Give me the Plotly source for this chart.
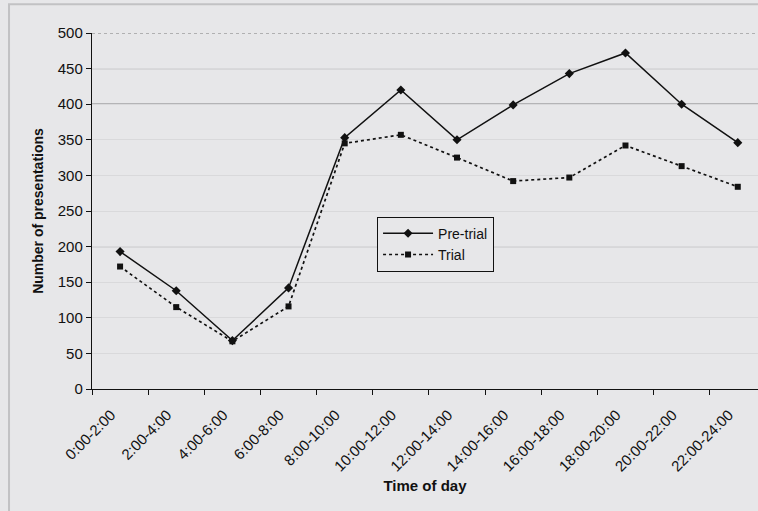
import plotly.graph_objects as go

time_slots = ["0:00-2:00", "2:00-4:00", "4:00-6:00", "6:00-8:00", "8:00-10:00",
              "10:00-12:00", "12:00-14:00", "14:00-16:00", "16:00-18:00",
              "18:00-20:00", "20:00-22:00", "22:00-24:00"]
pre_trial = [193, 138, 68, 142, 353, 420, 350, 399, 443, 472, 400, 346]
trial = [172, 115, 67, 116, 345, 357, 325, 292, 297, 342, 313, 284]
y_ticks = [0, 50, 100, 150, 200, 250, 300, 350, 400, 450, 500]

BG = "#e7e7e9"
FONT = "Arial, Liberation Sans, sans-serif"

fig = go.Figure()
fig.add_trace(go.Scatter(
    x=time_slots, y=pre_trial, name="Pre-trial", mode="lines+markers",
    line=dict(color="#111111", width=1.5),
    marker=dict(symbol="diamond", size=7, color="#111111"),
))
fig.add_trace(go.Scatter(
    x=time_slots, y=trial, name="Trial", mode="lines+markers",
    line=dict(color="#111111", width=1.7, dash="dot"),
    marker=dict(symbol="square", size=6, color="#111111"),
))

# stronger (scanned) gridlines
shapes = []
for yv in [200, 400, 450]:
    shapes.append(dict(type="line", xref="paper", yref="y", x0=0, x1=1, y0=yv, y1=yv,
                       line=dict(color="#444446", width=1), layer="below"))
shapes.append(dict(type="line", xref="paper", yref="y", x0=0, x1=1, y0=500, y1=500,
                   line=dict(color="#7a7a7a", width=1, dash="dot"), layer="below"))
# outer frame border
shapes.append(dict(type="rect", xref="paper", yref="paper",
                   x0=-0.1246, x1=1.2, y0=-0.5, y1=1.081,
                   line=dict(color="#c2c2c4", width=2), fillcolor="rgba(0,0,0,0)",
                   layer="below"))

fig.update_layout(
    width=758, height=511,
    margin=dict(l=92, r=0, t=33, b=122),
    paper_bgcolor=BG, plot_bgcolor=BG,
    font=dict(family=FONT, color="#111111"),
    showlegend=True,
    hovermode=False,
    legend=dict(
        x=0.428, y=0.484, xanchor="left", yanchor="top",
        bgcolor=BG, bordercolor="#111111", borderwidth=1,
        font=dict(size=14, family=FONT, color="#111111"),
        itemwidth=50, tracegroupgap=0,
    ),
    shapes=shapes,
    xaxis=dict(
        type="category", categoryorder="array", categoryarray=time_slots,
        range=[-0.5, 11.36], tickson="boundaries", automargin=False,
        ticks="outside", ticklen=5, tickcolor="#111111",
        showline=True, linecolor="#111111", linewidth=1.2,
        showgrid=False, tickangle=-45,
        ticklabelstandoff=10, ticklabelshift=-9,
        tickfont=dict(size=15, family=FONT, color="#111111"),
        title=dict(text="<b>Time of day</b>", font=dict(size=15, family=FONT, color="#111111"),
                   standoff=6),
    ),
    yaxis=dict(
        range=[0, 500], tickvals=y_ticks, automargin=False,
        ticks="outside", ticklen=5, tickcolor="#111111",
        showline=True, linecolor="#111111", linewidth=1.2,
        showgrid=True, gridcolor="#d9d9db", gridwidth=1, zeroline=False,
        tickfont=dict(size=15, family=FONT, color="#111111"),
        title=dict(text="<b>Number of presentations</b>",
                   font=dict(size=14, family=FONT, color="#111111"), standoff=10),
    ),
)

fig.write_html(
    "out.html",
    config={"displayModeBar": False, "staticPlot": True},
    post_script="document.body.style.margin='0';document.body.style.background='#ececee';",
)
